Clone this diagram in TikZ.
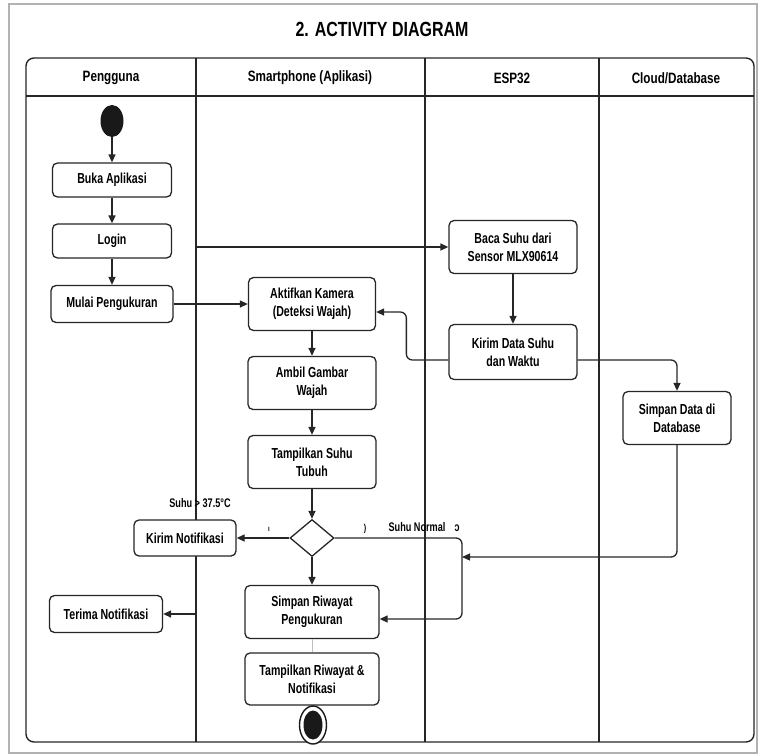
\documentclass[tikz,border=0pt]{standalone}
\usepackage{fontspec}
\setmainfont{Liberation Sans}[FakeStretch=0.8]
\newfontfamily\boxfont{Liberation Sans Bold}[FakeStretch=0.73]
\newfontfamily\headfont{Liberation Sans Bold}[FakeStretch=0.78]
\usetikzlibrary{arrows.meta,shapes.geometric}

\begin{document}
\begin{tikzpicture}[x=1pt,y=-1pt,
  lane/.style={line width=1.4pt,draw=black!85},
  head/.style={font=\headfont\fontsize{15}{18}\selectfont},
  act/.style={draw=black!85,fill=white,line width=1.3pt,rounded corners=5pt,align=center,inner sep=2pt,font=\boxfont\fontsize{14.5}{18}\selectfont},
  flow/.style={line width=1.3pt,draw=black!85,rounded corners=6pt,-{Triangle[length=8pt,width=7pt]}},
  lbl/.style={font=\boxfont\fontsize{12.5}{14}\selectfont,inner sep=0pt}]
\useasboundingbox (0,0) rectangle (761,755);
\draw[gray!60,line width=1.5pt] (9,4) rectangle (757,753);
\node[font=\headfont\fontsize{20.5}{24}\selectfont] (title) at (382,29) {2. ACTIVITY DIAGRAM};

\draw[lane,rounded corners=8pt] (26,58) rectangle (754,742);
\draw[lane] (26,96) -- (754,96);
\coordinate (d1) at (196,58);
\coordinate (d2) at (425,58);
\coordinate (d3) at (599,58);
\draw[lane] (d1) -- (196,742) (d2) -- (425,742) (d3) -- (599,742);
\node[head] (hpengguna) at (111,78) {Pengguna};
\node[head] (hphone) at (310,78) {Smartphone (Aplikasi)};
\node[head] (hesp) at (512,78) {ESP32};
\node[head] (hcloud) at (676,78) {Cloud/Database};

\node[ellipse,fill=black!90,minimum width=23,minimum height=32,inner sep=0pt] (start) at (112,121) {};
\node[act,minimum width=119,minimum height=34] (buka) at (112,180) {Buka Aplikasi};
\node[act,minimum width=119,minimum height=34] (login) at (112,241) {Login};
\node[act,minimum width=122,minimum height=37] (mulai) at (112,304) {Mulai Pengukuran};
\node[act,minimum width=127,minimum height=53] (kamera) at (312,304) {Aktifkan Kamera\\(Deteksi Wajah)};
\node[act,minimum width=128,minimum height=53] (ambil) at (312,383) {Ambil Gambar\\Wajah};
\node[act,minimum width=128,minimum height=53] (tampil) at (312,462) {Tampilkan Suhu\\Tubuh};
\node[diamond,draw=black!85,fill=white,line width=1.3pt,inner sep=0pt,minimum width=44,minimum height=37] (cek) at (312,538) {};
\node[act,minimum width=102,minimum height=36] (kirimnotif) at (185,538) {Kirim Notifikasi};
\node[act,minimum width=113,minimum height=37] (terima) at (106,614) {Terima Notifikasi};
\node[act,minimum width=134,minimum height=53] (simpanriw) at (312,612) {Simpan Riwayat\\Pengukuran};
\node[act,minimum width=134,minimum height=52] (riwayat) at (312,679) {Tampilkan Riwayat \&\\Notifikasi};
\node[act,minimum width=128,minimum height=53] (baca) at (513,247) {Baca Suhu dari\\Sensor MLX90614};
\node[act,minimum width=128,minimum height=55] (kirimdata) at (513,352) {Kirim Data Suhu\\dan Waktu};
\node[act,minimum width=108,minimum height=53] (simpandb) at (677,418) {Simpan Data di\\Database};
\node[ellipse,draw=black!90,fill=white,line width=1.4pt,minimum width=27,minimum height=38,inner sep=0pt] (end) at (313,725) {};
\node[ellipse,fill=black!90,minimum width=19,minimum height=29,inner sep=0pt] (endin) at (end) {};
\coordinate (gabung) at (462,557);

\draw[flow] (start) -- (buka);
\draw[flow] (buka) -- (login);
\draw[flow] (login) -- (mulai);
\draw[flow] (d1 |- baca.west) -- (baca.west);
\draw[flow] (mulai) -- (kamera);
\draw[flow] (baca) -- (kirimdata);
\draw[flow] ([yshift=-8pt]kirimdata.west) -- ++(-42,0) |- ([yshift=-8pt]kamera.east);
\draw[flow] ([yshift=-8pt]kirimdata.east) -| (simpandb.north);
\draw[flow] (kamera) -- (ambil);
\draw[flow] (ambil) -- (tampil);
\draw[flow] (tampil) -- (cek);
\draw[flow] (cek.west) -- (kirimnotif.east);
\draw[flow] (cek.east) -| (gabung) |- ([yshift=-7pt]simpanriw.east);
\draw[flow] (simpandb.south) |- (gabung);
\draw[flow] (cek.south) -- (simpanriw.north);
\draw[flow] (d1 |- terima.east) -- (terima.east);
\draw[gray!50,line width=0.8pt] (simpanriw) -- (riwayat);
\draw[line width=1.3pt,black!85] (riwayat) -- (end);

\node[lbl] (lpanas) at (200,503) {Suhu > 37.5°C};
\node[lbl] (lnormal) at (417,527) {Suhu Normal};
\node[lbl,font=\boxfont\fontsize{8}{9}\selectfont] (m1) at (269,529) {ı};
\node[lbl,font=\boxfont\fontsize{10}{11}\selectfont] (m2) at (365,529) {)};
\node[lbl] (m3) at (457,528) {\scalebox{-1}[1]{c}};
\end{tikzpicture}
\end{document}
